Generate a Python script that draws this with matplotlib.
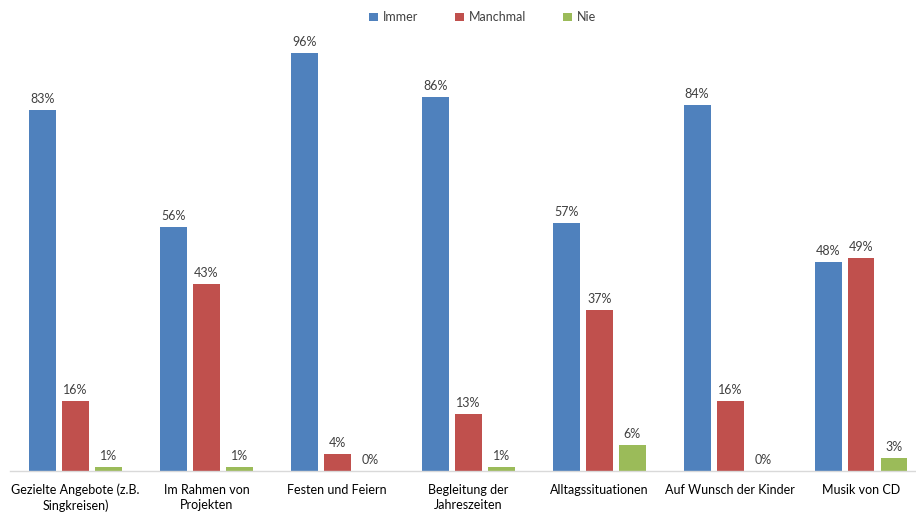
import matplotlib
matplotlib.use("Agg")
import matplotlib.pyplot as plt
import numpy as np

categories = ["Gezielte Angebote (z.B.\nSingkreisen)", "Im Rahmen von\nProjekten", "Festen und Feiern",
              "Begleitung der\nJahreszeiten", "Alltagssituationen", "Auf Wunsch der Kinder", "Musik von CD"]
series_names = ["Immer", "Manchmal", "Nie"]
immer = [83, 56, 96, 86, 57, 84, 48]
manchmal = [16, 43, 4, 13, 37, 16, 49]
nie = [1, 1, 0, 1, 6, 0, 3]
colors = ["#4F81BD", "#C0504D", "#9BBB59"]

plt.rcParams['font.family'] = ['Lato', 'DejaVu Sans']
fig = plt.figure(figsize=(9.16, 5.13), dpi=100)
ax = fig.add_axes([10/916, 42/513, 906/916, 435.4/513])

x = np.arange(len(categories))
stride = 0.252
width = 0.206
tc = "#404040"
for i, (vals, name, c) in enumerate(zip([immer, manchmal, nie], series_names, colors)):
    bars = ax.bar(x + (i - 1) * stride, vals, width, color=c, label=name, zorder=2)
    for b, v in zip(bars, vals):
        ax.annotate(f"{v}%", (b.get_x() + b.get_width() / 2, v), xytext=(0, 5),
                    textcoords="offset pixels", ha="center", va="bottom", fontsize=9, color=tc)

ax.set_xlim(-0.50, 6.42)
ax.set_ylim(0, 100)
for s in ["top", "right", "left"]:
    ax.spines[s].set_visible(False)
ax.spines["bottom"].set_color("#D9D9D9")
ax.spines["bottom"].set_linewidth(1)
ax.set_yticks([])
ax.set_xticks(x)
ax.set_xticklabels(categories, fontsize=9, color="#000000", linespacing=1.35)
ax.tick_params(axis="x", length=0, pad=9)

leg = fig.legend(loc="upper center", bbox_to_anchor=(0.527, 1.0), ncol=3, frameon=False,
                 fontsize=9, handlelength=0.7, handleheight=0.7, columnspacing=2.9, handletextpad=0.45)
for t in leg.get_texts():
    t.set_color(tc)

fig.savefig("out.png", dpi=100)
